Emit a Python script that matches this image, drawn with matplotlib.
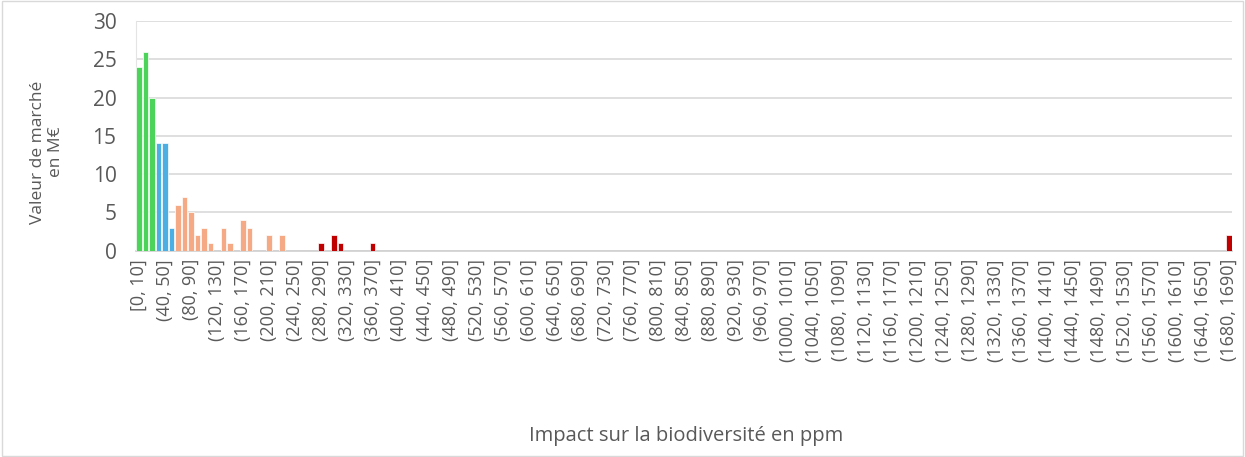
import matplotlib.pyplot as plt
from matplotlib.patches import Rectangle

plt.rcParams["font.family"] = ["Open Sans", "DejaVu Sans"]

# market value (M€) per 10 ppm bin, bins 0..37 then the last bin (1680, 1690]
first_counts = [24, 26, 20, 14, 14, 3, 6, 7, 5, 2,
                3, 1, 0, 3, 1, 0, 4, 3, 0, 0,
                2, 0, 2, 0, 0, 0, 0, 0, 1, 0,
                2, 1, 0, 0, 0, 0, 1, 0]
last_count = 2
n_bins = 169
bin_width = 10

counts = first_counts + [0] * (n_bins - len(first_counts) - 1) + [last_count]

# colour class limits (upper edge of bin, ppm)
class_limits = [30, 60, 250]
class_colors = ["#4CD35A", "#4BAFE3", "#F5AA85", "#C00000"]

labels = []
for k in range(n_bins):
    lo, hi = k * bin_width, (k + 1) * bin_width
    labels.append(f"[{lo}, {hi}]" if k == 0 else f"({lo}, {hi}]")

colors = []
for k in range(n_bins):
    hi = (k + 1) * bin_width
    idx = sum(hi > lim for lim in class_limits)
    colors.append(class_colors[idx])

fig = plt.figure(figsize=(12.45, 4.57), dpi=100)
ax = fig.add_axes([136 / 1245, 1 - 250.7 / 457, (1232 - 136) / 1245, (250.7 - 20.9) / 457])

x = list(range(n_bins))
ax.bar(x, counts, width=0.85, color=colors, edgecolor="white", linewidth=0.5, zorder=3)

ax.set_xlim(-0.5, n_bins - 0.5)
ax.set_ylim(0, 30)
ax.set_yticks(range(0, 31, 5))
ax.grid(axis="y", color="#D9D9D9", linewidth=1.2, zorder=0)

ax.set_xticks(x[::4])
ax.set_xticklabels(labels[::4], rotation=90, fontsize=13, color="#595959")
ax.tick_params(axis="y", labelsize=15, labelcolor="#595959", length=0, pad=14)
ax.tick_params(axis="x", length=0, pad=6)

for s in ["top", "right"]:
    ax.spines[s].set_visible(False)
ax.spines["left"].set_color("#E4E4E4")
ax.spines["bottom"].set_color("#D0D0D0")
ax.spines["bottom"].set_linewidth(1.2)

ax.set_ylabel("Valeur de marché\nen M€", fontsize=12.5, color="#595959",
              linespacing=1.1)
ax.yaxis.set_label_coords(-0.066, 0.43)
fig.text(686 / 1245, 1 - 436 / 457, "Impact sur la biodiversité en ppm", fontsize=14.5,
         color="#595959", ha="center", va="center")

fig.patches.append(Rectangle((0.002, 0.002), 0.996, 0.996, transform=fig.transFigure,
                             fill=False, edgecolor="#D9D9D9", linewidth=1))

fig.savefig("out.png", dpi=100)
